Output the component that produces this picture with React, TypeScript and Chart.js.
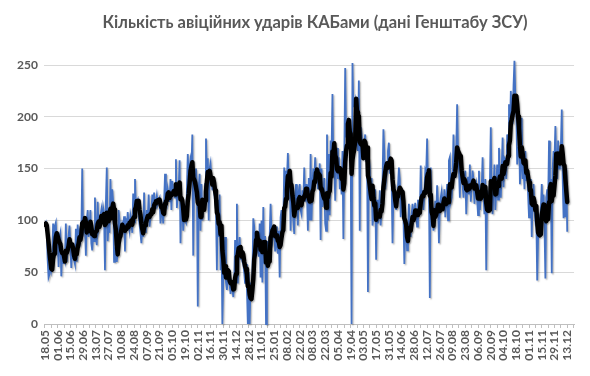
import React, { useEffect, useRef } from "react";
import { Chart, registerables } from "chart.js";

Chart.register(...registerables);

const TITLE = "Кількість авіційних ударів КАБами (дані Генштабу ЗСУ)";

// first day of the series: 18.05.2024 (one value per day)
const START_YEAR = 2024;
const START_MONTH = 4; // May (0-based)
const START_DAY = 18;

// daily number of guided-bomb (КАБ) strikes
const dailyStrikes: number[] = [
  96, 98, 92, 62, 45, 48, 60, 52, 58, 97, // 0
  72, 95, 98, 76, 82, 55, 84, 88, 46, 70, // 10
  58, 66, 62, 97, 60, 72, 85, 95, 74, 54, // 20
  76, 65, 62, 58, 92, 60, 96, 82, 88, 80, // 30
  86, 150, 88, 92, 96, 66, 100, 110, 84, 90, // 40
  110, 78, 71, 86, 80, 122, 86, 76, 118, 92, // 50
  97, 104, 110, 98, 112, 106, 52, 116, 151, 80, // 60
  97, 88, 140, 105, 130, 118, 60, 72, 74, 60, // 70
  70, 110, 100, 85, 88, 96, 92, 104, 70, 102, // 80
  92, 108, 96, 90, 105, 100, 88, 126, 98, 140, // 90
  112, 118, 120, 104, 96, 88, 78, 92, 84, 127, // 100
  96, 88, 110, 100, 125, 94, 102, 108, 125, 110, // 110
  127, 112, 118, 124, 116, 120, 122, 97, 108, 112, // 120
  97, 118, 145, 120, 116, 130, 124, 118, 140, 110, // 130
  138, 130, 125, 122, 159, 112, 124, 130, 158, 78, // 140
  118, 112, 90, 104, 100, 98, 128, 164, 140, 150, // 150
  158, 150, 183, 66, 140, 145, 150, 135, 17, 130, // 160
  145, 90, 135, 100, 116, 110, 135, 179, 150, 160, // 170
  100, 150, 155, 138, 130, 130, 128, 118, 110, 52, // 180
  120, 84, 125, 52, 95, 0, 42, 58, 84, 40, // 190
  33, 45, 52, 38, 29, 39, 35, 26, 40, 81, // 200
  60, 116, 39, 70, 84, 62, 71, 60, 58, 50, // 210
  39, 58, 35, 0, 50, 0, 40, 30, 45, 102, // 220
  94, 75, 89, 80, 71, 65, 97, 45, 100, 40, // 230
  113, 58, 85, 0, 80, 58, 80, 84, 116, 90, // 240
  81, 88, 95, 70, 94, 75, 68, 90, 45, 103, // 250
  110, 95, 100, 151, 110, 148, 140, 165, 135, 150, // 260
  90, 130, 116, 100, 87, 125, 135, 119, 95, 128, // 270
  135, 110, 106, 129, 120, 151, 118, 135, 125, 90, // 280
  141, 100, 164, 100, 135, 150, 140, 161, 145, 150, // 290
  130, 138, 155, 81, 150, 113, 120, 141, 97, 90, // 300
  183, 100, 164, 105, 177, 165, 222, 150, 158, 119, // 310
  151, 170, 140, 161, 130, 145, 125, 167, 82, 160, // 320
  247, 180, 193, 185, 180, 190, 170, 0, 252, 210, // 330
  210, 215, 200, 187, 167, 235, 90, 190, 183, 170, // 340
  167, 175, 183, 157, 170, 31, 160, 151, 120, 141, // 350
  95, 103, 113, 130, 62, 120, 97, 110, 129, 95, // 360
  113, 135, 188, 167, 130, 141, 150, 167, 175, 145, // 370
  161, 140, 78, 125, 135, 120, 110, 125, 132, 151, // 380
  140, 103, 115, 129, 105, 58, 90, 97, 71, 85, // 390
  116, 95, 84, 105, 116, 100, 110, 117, 105, 94, // 400
  120, 113, 105, 153, 120, 129, 110, 125, 148, 145, // 410
  179, 130, 140, 25, 151, 95, 113, 90, 100, 119, // 420
  105, 134, 118, 78, 110, 122, 128, 116, 110, 130, // 430
  103, 120, 135, 100, 158, 161, 118, 122, 140, 183, // 440
  150, 142, 165, 212, 167, 150, 122, 160, 142, 135, // 450
  122, 140, 148, 106, 130, 142, 125, 154, 118, 132, // 460
  148, 140, 116, 130, 135, 120, 105, 148, 110, 122, // 470
  130, 161, 125, 106, 140, 52, 129, 120, 115, 135, // 480
  190, 125, 106, 130, 154, 110, 128, 154, 120, 170, // 490
  140, 122, 150, 180, 132, 160, 158, 140, 183, 170, // 500
  212, 180, 225, 200, 193, 230, 254, 219, 205, 154, // 510
  170, 199, 135, 150, 199, 140, 154, 130, 167, 138, // 520
  150, 125, 103, 129, 140, 84, 120, 135, 110, 100, // 530
  105, 42, 84, 100, 97, 110, 135, 110, 125, 95, // 540
  44, 122, 130, 115, 177, 113, 140, 49, 150, 167, // 550
  160, 191, 154, 140, 177, 150, 154, 170, 207, 140, // 560
  102, 145, 103, 150, 89, // 570
];

// y axis
const Y_MIN = 0;
const Y_MAX = 250;
const Y_STEP = 50;

// x axis: a tick every 7 days, a date label every 14 days
const TICK_STEP_DAYS = 7;
const LABEL_STEP_DAYS = 14;

// trend line: moving average over this many days
const MA_WINDOW = 5;

const pad2 = (n: number) => (n < 10 ? "0" + n : String(n));

// category labels (dd.mm) for every day of the series
const dayLabels: string[] = dailyStrikes.map((_, i) => {
  const d = new Date(Date.UTC(START_YEAR, START_MONTH, START_DAY) + i * 86400000);
  return pad2(d.getUTCDate()) + "." + pad2(d.getUTCMonth() + 1);
});

const movingAverage: number[] = dailyStrikes.map((_, i) => {
  const from = Math.max(0, i - MA_WINDOW + 1);
  const slice = dailyStrikes.slice(from, i + 1);
  return slice.reduce((a, b) => a + b, 0) / slice.length;
});

const FONT = "Lato, 'Open Sans', 'Noto Sans', sans-serif";
const TEXT_COLOR = "#595959";

const titlePlugin = {
  id: "customTitle",
  afterDraw(chart: any) {
    const ctx = chart.ctx;
    const area = chart.chartArea;
    ctx.save();
    ctx.font = `bold 16.5px ${FONT}`;
    ctx.fillStyle = TEXT_COLOR;
    ctx.textAlign = "center";
    ctx.textBaseline = "middle";
    ctx.fillText(TITLE, (area.left + area.right) / 2 + 6, 23);
    ctx.restore();
  },
};

const shadowPlugin = {
  id: "lineShadow",
  beforeDatasetDraw(chart: any) {
    const ctx = chart.ctx;
    ctx.save();
    ctx.shadowColor = "rgba(0,0,0,0.28)";
    ctx.shadowBlur = 1.5;
    ctx.shadowOffsetX = 1.2;
    ctx.shadowOffsetY = 1.2;
  },
  afterDatasetDraw(chart: any) {
    chart.ctx.restore();
  },
};

export default function App() {
  const canvasRef = useRef<HTMLCanvasElement | null>(null);

  useEffect(() => {
    const canvas = canvasRef.current;
    if (!canvas) return;
    const chart = new Chart(canvas, {
      type: "line",
      data: {
        datasets: [
          {
            label: "Ковзне середнє",
            data: movingAverage.map((v, i) => ({ x: i, y: v })),
            borderColor: "#000000",
            borderWidth: 4.5,
            pointRadius: 0,
            tension: 0,
            borderJoinStyle: "round",
            borderCapStyle: "round",
            fill: false,
            order: 0,
          },
          {
            label: "КАБи",
            data: dailyStrikes.map((v, i) => ({ x: i, y: v })),
            borderColor: "#4472C4",
            borderWidth: 1.8,
            pointRadius: 0,
            tension: 0,
            fill: false,
            clip: false,
            order: 1,
          },
        ],
      },
      options: {
        responsive: false,
        animation: false,
        events: [],
        layout: { padding: { top: 65, right: 8, left: 0, bottom: 0 } },
        plugins: {
          legend: { display: false },
          tooltip: { enabled: false },
          title: { display: false },
        },
        scales: {
          x: {
            type: "linear",
            min: -1,
            max: 581.5,
            grid: {
              drawOnChartArea: false,
              drawTicks: true,
              tickLength: 4,
              color: "#bfbfbf",
            },
            border: { color: "#bfbfbf", width: 1 },
            ticks: {
              stepSize: TICK_STEP_DAYS,
              autoSkip: false,
              includeBounds: false,
              minRotation: 90,
              maxRotation: 90,
              padding: 2,
              color: TEXT_COLOR,
              font: { family: FONT, size: 12, weight: "bold" },
              callback: (value: any) => {
                const v = Number(value);
                if (!Number.isInteger(v) || v < 0 || v >= dayLabels.length) return "";
                return v % LABEL_STEP_DAYS === 0 ? dayLabels[v] : "";
              },
            },
            afterFit: (scale: any) => {
              scale.height = 52;
            },
          },
          y: {
            min: Y_MIN,
            max: Y_MAX,
            grid: { color: "#d9d9d9", drawTicks: false },
            border: { display: false },
            ticks: {
              stepSize: Y_STEP,
              padding: 6,
              color: TEXT_COLOR,
              font: { family: FONT, size: 12, weight: "bold" },
            },
            afterFit: (scale: any) => {
              scale.width = 44;
            },
          },
        },
      },
      plugins: [titlePlugin, shadowPlugin],
    });
    return () => chart.destroy();
  }, []);

  return (
    <div
      style={{
        position: "fixed",
        left: 0,
        top: 0,
        width: 590,
        height: 376,
        background: "#ffffff",
      }}
    >
      <canvas ref={canvasRef} width={590} height={376} style={{ display: "block" }} />
    </div>
  );
}
